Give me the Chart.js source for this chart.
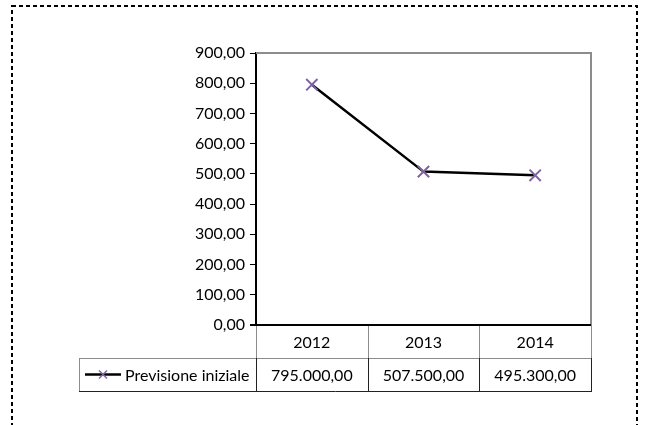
<!DOCTYPE html>
<html>
<head>
<meta charset="utf-8">
<script src="https://cdn.jsdelivr.net/npm/chart.js@4"></script>
<style>
  html, body { margin: 0; padding: 0; background: #fff; }
  canvas { display: block; }
</style>
</head>
<body>
<canvas id="lineCanvas" width="645" height="425"></canvas>
<script>
const years = ["2012", "2013", "2014"];
const previsioneIniziale = [795000, 507500, 495300];
const seriesName = "Previsione iniziale";
const yMax = 900000;
const yStep = 100000;

const FONT = "Lato, 'Liberation Sans', sans-serif";

// 795000 -> "795.000,00"
function formatIt(v) {
    const parts = v.toFixed(2).split(".");
    const intPart = parts[0].replace(/\B(?=(\d{3})+(?!\d))/g, ".");
    return intPart + "," + parts[1];
}

// box, plot frame and the data table under the plot
const tablePlugin = {
    id: "dataTable",
    afterDraw(chart) {
        const ctx = chart.ctx;
        const area = chart.chartArea;
        const x = chart.scales.x;
        const rowH = 33;
        const catTop = area.bottom;
        const dataTop = catTop + rowH;
        const dataBottom = dataTop + rowH;
        const legendLeft = 79;

        ctx.save();

        // dotted frame round the whole chart
        ctx.setLineDash([4, 3]);
        ctx.lineWidth = 2;
        ctx.strokeStyle = "#000";
        ctx.strokeRect(12, 6, 625, 520);
        ctx.setLineDash([]);

        // plot frame: top and right in grey
        ctx.strokeStyle = "#8c8c8c";
        ctx.lineWidth = 2;
        ctx.beginPath();
        ctx.moveTo(area.left, area.top);
        ctx.lineTo(area.right, area.top);
        ctx.lineTo(area.right, area.bottom);
        ctx.stroke();

        // cell edges along the category axis
        const edges = [area.left];
        for (let i = 0; i < years.length - 1; i++) {
            edges.push((x.getPixelForValue(i) + x.getPixelForValue(i + 1)) / 2);
        }
        edges.push(area.right);

        // category row (grey lines)
        ctx.lineWidth = 1;
        ctx.strokeStyle = "#8c8c8c";
        ctx.beginPath();
        edges.forEach(e => {
            ctx.moveTo(Math.round(e) + 0.5, catTop);
            ctx.lineTo(Math.round(e) + 0.5, dataTop);
        });
        ctx.moveTo(legendLeft, dataTop + 0.5);
        ctx.lineTo(area.right, dataTop + 0.5);
        ctx.moveTo(legendLeft + 0.5, dataTop);
        ctx.lineTo(legendLeft + 0.5, dataBottom);
        ctx.stroke();

        // data row (dark lines)
        ctx.strokeStyle = "#222";
        ctx.beginPath();
        edges.forEach(e => {
            ctx.moveTo(Math.round(e) + 0.5, dataTop);
            ctx.lineTo(Math.round(e) + 0.5, dataBottom);
        });
        ctx.moveTo(legendLeft, dataBottom + 0.5);
        ctx.lineTo(area.right + 1, dataBottom + 0.5);
        ctx.stroke();

        // x axis line
        ctx.strokeStyle = "#000";
        ctx.lineWidth = 2;
        ctx.beginPath();
        ctx.moveTo(area.left - 6, area.bottom);
        ctx.lineTo(area.right, area.bottom);
        ctx.stroke();

        // texts
        ctx.fillStyle = "#000";
        ctx.font = "16px " + FONT;
        ctx.textAlign = "center";
        ctx.textBaseline = "middle";
        years.forEach((y, i) => {
            const cx = x.getPixelForValue(i);
            ctx.fillText(y, cx, catTop + rowH / 2 + 1);
            ctx.fillText(formatIt(previsioneIniziale[i]), cx, dataTop + rowH / 2 + 1);
        });

        // legend key in the first cell
        const ky = dataTop + rowH / 2;
        ctx.strokeStyle = "#000";
        ctx.lineWidth = 2.5;
        ctx.beginPath();
        ctx.moveTo(85, ky);
        ctx.lineTo(121, ky);
        ctx.stroke();
        ctx.strokeStyle = "#8064a2";
        ctx.lineWidth = 1.5;
        ctx.beginPath();
        ctx.moveTo(99, ky - 4);
        ctx.lineTo(107, ky + 4);
        ctx.moveTo(107, ky - 4);
        ctx.lineTo(99, ky + 4);
        ctx.stroke();
        ctx.textAlign = "left";
        ctx.fillText(seriesName, 125, ky + 1);

        ctx.restore();
    }
};

const lineCanvas = document.getElementById("lineCanvas");

const lineChart = new Chart(lineCanvas, {
    type: "line",
    data: {
        labels: years,
        datasets: [{
            label: seriesName,
            data: previsioneIniziale,
            borderColor: "#000",
            borderWidth: 2.5,
            pointStyle: "crossRot",
            pointRadius: 8,
            pointBorderWidth: 2,
            pointBorderColor: "#8064a2",
            pointBackgroundColor: "#8064a2",
            tension: 0
        }]
    },
    options: {
        responsive: false,
        animation: false,
        layout: {
            padding: { top: 53, right: 54, bottom: 100, left: 0 }
        },
        plugins: {
            legend: { display: false },
            tooltip: { enabled: false }
        },
        scales: {
            x: {
                display: false,
                offset: true
            },
            y: {
                min: 0,
                max: yMax,
                afterFit(scale) {
                    scale.width = 256;
                },
                ticks: {
                    stepSize: yStep,
                    color: "#000",
                    padding: 5,
                    font: { family: FONT, size: 16 },
                    callback: v => formatIt(v / 1000)
                },
                grid: {
                    drawOnChartArea: false,
                    tickLength: 6,
                    color: "#000"
                },
                border: {
                    color: "#000",
                    width: 2
                }
            }
        }
    },
    plugins: [tablePlugin]
});
</script>
</body>
</html>
